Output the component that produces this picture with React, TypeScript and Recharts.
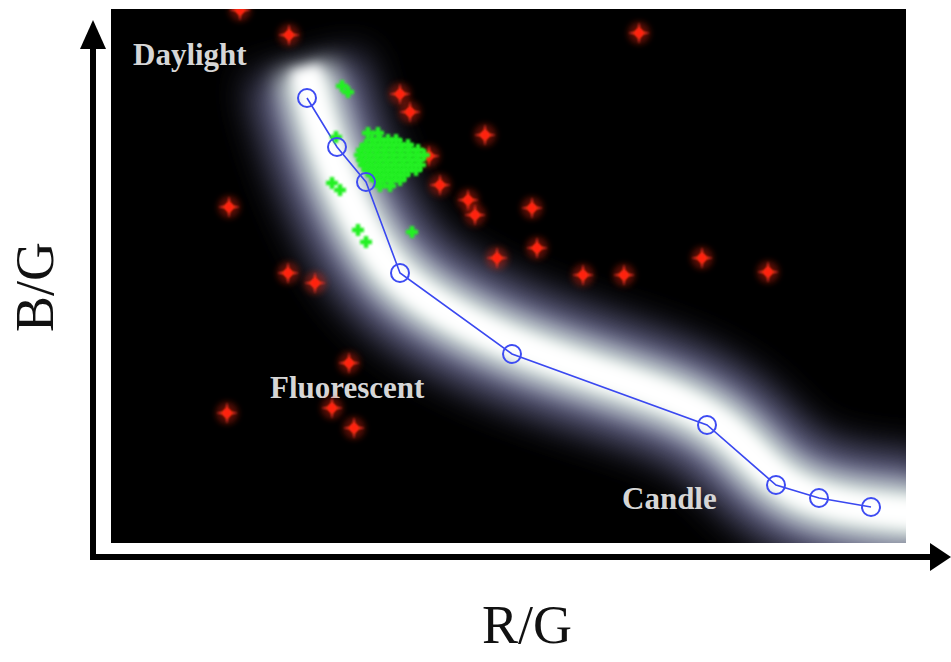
import React from 'react';
import { ComposedChart, XAxis, YAxis, Line, Scatter, CartesianGrid } from 'recharts';

const W = 951;
const H = 662;
const MARGIN = { top: 9, right: 45, bottom: 119, left: 111 };
const X_DOMAIN: [number, number] = [0, 1.59];
const Y_DOMAIN: [number, number] = [0, 1.068];

// Illuminant locus (blue circles joined by a line), R/G and B/G
const locusRG = [0.392, 0.452, 0.51, 0.578, 0.802, 1.192, 1.33, 1.416, 1.52];
const locusBG = [0.89, 0.792, 0.722, 0.54, 0.378, 0.236, 0.116, 0.09, 0.072];

// Centre line of the bright likelihood band
const bandRG = [0.388, 0.414, 0.448, 0.498, 0.562, 0.658, 0.798, 0.978, 1.138, 1.238, 1.308, 1.378, 1.478, 1.64];
const bandBG = [0.95, 0.846, 0.746, 0.636, 0.536, 0.466, 0.396, 0.336, 0.286, 0.226, 0.146, 0.096, 0.07, 0.056];

// Outlier measurements (red stars)
const outlierRG = [0.258, 0.356, 1.056, 0.578, 0.598, 0.748, 0.636, 0.658, 0.714, 0.728, 0.842, 0.852, 0.772, 0.944, 1.026, 1.182, 1.314, 0.236, 0.354, 0.408, 0.476, 0.232, 0.442, 0.486];
const outlierBG = [1.066, 1.016, 1.02, 0.898, 0.862, 0.816, 0.774, 0.716, 0.686, 0.656, 0.67, 0.59, 0.57, 0.536, 0.536, 0.57, 0.542, 0.672, 0.54, 0.52, 0.36, 0.26, 0.27, 0.23];

// Daylight-cluster measurements (green crosses)
const clusterRG = [
  0.514, 0.534,
  0.522, 0.538, 0.554, 0.57,
  0.51, 0.528, 0.546, 0.562, 0.578, 0.594,
  0.502, 0.518, 0.534, 0.55, 0.566, 0.582, 0.598, 0.614,
  0.498, 0.514, 0.53, 0.546, 0.562, 0.578, 0.594, 0.61, 0.626,
  0.502, 0.518, 0.534, 0.55, 0.566, 0.582, 0.598, 0.614,
  0.506, 0.522, 0.538, 0.554, 0.57, 0.586, 0.602, 0.618,
  0.514, 0.53, 0.546, 0.562, 0.578, 0.594, 0.61,
  0.522, 0.538, 0.554, 0.57, 0.586,
  0.53, 0.546, 0.562, 0.578,
  0.538, 0.558,
  0.462, 0.474, 0.45, 0.442, 0.458, 0.494, 0.51, 0.602,
];
const clusterBG = [
  0.82, 0.82,
  0.806, 0.806, 0.806, 0.806,
  0.796, 0.796, 0.796, 0.796, 0.796, 0.796,
  0.786, 0.786, 0.786, 0.786, 0.786, 0.786, 0.786, 0.786,
  0.776, 0.776, 0.776, 0.776, 0.776, 0.776, 0.776, 0.776, 0.776,
  0.766, 0.766, 0.766, 0.766, 0.766, 0.766, 0.766, 0.766,
  0.756, 0.756, 0.756, 0.756, 0.756, 0.756, 0.756, 0.756,
  0.746, 0.746, 0.746, 0.746, 0.746, 0.746, 0.746,
  0.736, 0.736, 0.736, 0.736, 0.736,
  0.726, 0.726, 0.726, 0.726,
  0.714, 0.714,
  0.914, 0.902, 0.812, 0.72, 0.706, 0.626, 0.602, 0.622,
];

// Region names placed in the plot
const regionNames = ['Daylight', 'Fluorescent', 'Candle'];
const regionRG = [0.044, 0.318, 1.022];
const regionBG = [0.956, 0.29, 0.068];

const zip = (xs: number[], ys: number[]) => xs.map((x, i) => ({ x, y: ys[i] }));
const locusData = zip(locusRG, locusBG);
const bandData = zip(bandRG, bandBG);
const outlierData = zip(outlierRG, outlierBG);
const clusterData = zip(clusterRG, clusterBG);
const regionData = regionNames.map((name, i) => ({ x: regionRG[i], y: regionBG[i], name }));

const StarShape = (props: any) => {
  const { cx, cy } = props;
  if (cx == null || cy == null) return null;
  return (
    <g transform={`translate(${cx},${cy})`}>
      <circle r={11} fill="#ff2a10" opacity={0.35} filter="url(#softHalo)" />
      <path
        d="M0,-11 L2,-2 L11,0 L2,2 L0,11 L-2,2 L-11,0 L-2,-2 Z"
        fill="#f0321e"
        filter="url(#softStar)"
      />
      <circle r={4.5} fill="#ff2410" filter="url(#softStar)" />
    </g>
  );
};

const CrossShape = (props: any) => {
  const { cx, cy } = props;
  if (cx == null || cy == null) return null;
  return (
    <g transform={`translate(${cx},${cy})`} filter="url(#softStar)">
      <path d="M-6,0 L6,0 M0,-6 L0,6" stroke="#22f022" strokeWidth={4.5} />
    </g>
  );
};

const RegionLabel = (props: any) => {
  const { cx, cy, payload } = props;
  if (cx == null || cy == null) return null;
  return (
    <text
      x={cx}
      y={cy}
      textAnchor="start"
      fontFamily="'Liberation Serif', serif"
      fontWeight="bold"
      fontSize={31}
      fill="#d6d6d6"
    >
      {payload.name}
    </text>
  );
};

export default function App() {
  const plotLeft = MARGIN.left;
  const plotBottom = H - MARGIN.bottom;
  return (
    <div style={{ position: 'absolute', left: 0, top: 0, width: W, height: H, background: '#fff' }}>
      <style>{`
        .band-outer path { filter: url(#blurOuter); }
        .band-mid path { filter: url(#blurMid); }
        .band-core path { filter: url(#blurCore); }
      `}</style>
      <svg width={0} height={0} style={{ position: 'absolute' }}>
        <defs>
          <filter id="blurOuter" filterUnits="userSpaceOnUse" x={-500} y={-500} width={2000} height={2000}>
            <feGaussianBlur stdDeviation={18} />
          </filter>
          <filter id="blurMid" filterUnits="userSpaceOnUse" x={-500} y={-500} width={2000} height={2000}>
            <feGaussianBlur stdDeviation={11} />
          </filter>
          <filter id="blurCore" filterUnits="userSpaceOnUse" x={-500} y={-500} width={2000} height={2000}>
            <feGaussianBlur stdDeviation={6} />
          </filter>
          <filter id="softHalo" x="-100%" y="-100%" width="300%" height="300%">
            <feGaussianBlur stdDeviation={3} />
          </filter>
          <filter id="softStar" x="-100%" y="-100%" width="300%" height="300%">
            <feGaussianBlur stdDeviation={0.9} />
          </filter>
        </defs>
      </svg>
      <ComposedChart width={W} height={H} margin={MARGIN}>
        <CartesianGrid fill="#000" horizontal={false} vertical={false} />
        <XAxis type="number" dataKey="x" domain={X_DOMAIN} allowDataOverflow hide />
        <YAxis type="number" dataKey="y" domain={Y_DOMAIN} allowDataOverflow hide />
        <Line
          className="band-outer"
          data={bandData}
          dataKey="y"
          type="basis"
          stroke="#646488"
          strokeWidth={116}
          strokeLinecap="butt"
          dot={false}
          activeDot={false}
          isAnimationActive={false}
        />
        <Line
          className="band-mid"
          data={bandData}
          dataKey="y"
          type="basis"
          stroke="#d4e0dc"
          strokeWidth={60}
          strokeLinecap="butt"
          dot={false}
          activeDot={false}
          isAnimationActive={false}
        />
        <Line
          className="band-core"
          data={bandData}
          dataKey="y"
          type="basis"
          stroke="#ffffff"
          strokeWidth={30}
          strokeLinecap="butt"
          dot={false}
          activeDot={false}
          isAnimationActive={false}
        />
        <Scatter data={regionData} dataKey="y" shape={RegionLabel} isAnimationActive={false} />
        <Scatter data={outlierData} dataKey="y" shape={StarShape} isAnimationActive={false} />
        <Scatter data={clusterData} dataKey="y" shape={CrossShape} isAnimationActive={false} />
        <Line
          data={locusData}
          dataKey="y"
          type="linear"
          stroke="#3a48f0"
          strokeWidth={1.6}
          dot={{ r: 9, fill: 'none', stroke: '#3e4cf2', strokeWidth: 2 }}
          activeDot={false}
          isAnimationActive={false}
        />
      </ComposedChart>
      <svg
        width={W}
        height={H}
        style={{ position: 'absolute', left: 0, top: 0, pointerEvents: 'none' }}
      >
        {/* axis arrows */}
        <line x1={plotLeft - 18} y1={plotBottom + 17} x2={plotLeft - 18} y2={46} stroke="#000" strokeWidth={6} />
        <polygon points={`${plotLeft - 18},20 ${plotLeft - 31},49 ${plotLeft - 5},49`} fill="#000" />
        <line x1={plotLeft - 21} y1={plotBottom + 14} x2={935} y2={plotBottom + 14} stroke="#000" strokeWidth={6} />
        <polygon points={`951,${plotBottom + 14} 930,${plotBottom} 930,${plotBottom + 28}`} fill="#000" />
        <text
          transform={`translate(53,287) rotate(-90)`}
          textAnchor="middle"
          fontFamily="'Liberation Serif', serif"
          fontSize={54}
          fill="#111"
        >
          B/G
        </text>
        <text
          x={527}
          y={643}
          textAnchor="middle"
          fontFamily="'Liberation Serif', serif"
          fontSize={54}
          fill="#111"
        >
          R/G
        </text>
      </svg>
    </div>
  );
}
